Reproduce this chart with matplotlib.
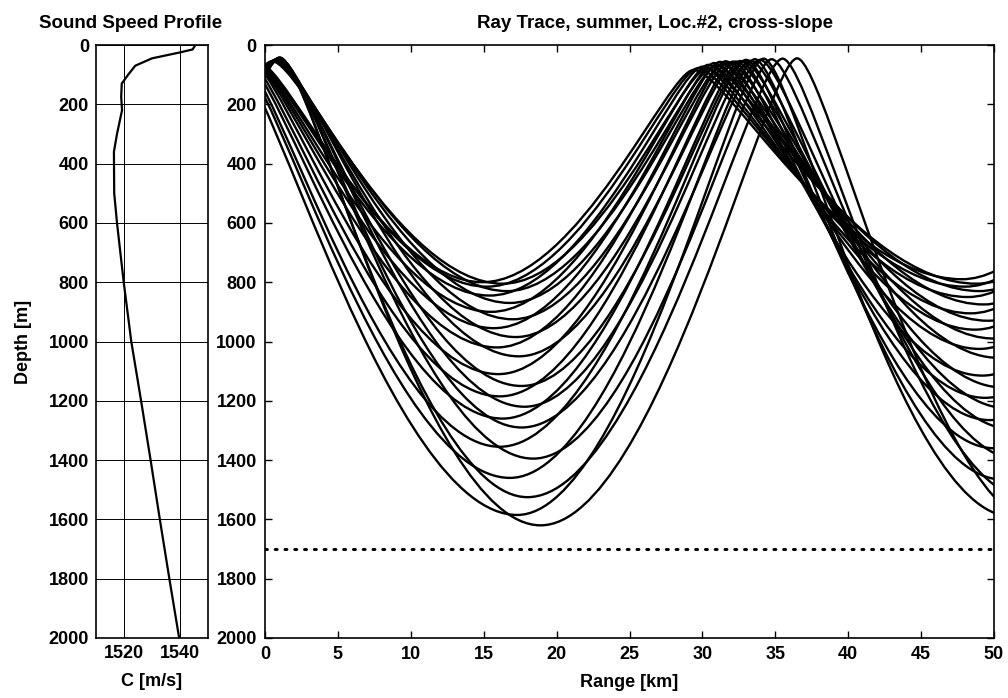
import matplotlib.pyplot as plt
from matplotlib.path import Path
from matplotlib.patches import PathPatch

plt.rcParams['font.family'] = ['Liberation Sans', 'DejaVu Sans']
plt.rcParams['font.weight'] = 'bold'
plt.rcParams['axes.labelweight'] = 'bold'
plt.rcParams['axes.titleweight'] = 'bold'
plt.rcParams['font.size'] = 13

# sound speed profile
ssp_depth = [0, 15, 25, 45, 70, 100, 130, 175, 220, 300, 360, 500, 600, 800,
             1000, 1200, 1400, 1600, 1800, 2000]
ssp_c = [1545.5, 1544.5, 1540, 1530, 1524, 1521.5, 1519.2, 1519, 1519.3, 1517.5,
         1516.4, 1516.5, 1517.5, 1519.9, 1522.6, 1526.1, 1529.5, 1532.8, 1536.2, 1539.7]

# ray turning points (range km, depth m); rays come in pairs,
# first launched downward, then upward
trough0_r = [-16, -14.8, -16, -15.0, -16, -15.2, -16, -15.4, -16, -15.6, -16, -15.8,
             -17, -16.0, -17, -16.2, -17, -16.0, -17, -16.6, -17, -16.0, -18, -16.9]
peak0_r = [-0.4, 0.5, -0.5, 0.6, -0.6, 0.7, -0.7, 0.8, -0.8, 0.8, -0.9, 0.9,
           -1.0, 0.9, -1.2, 1.0, -1.4, 1.0, -1.6, 1.0, -1.8, 1.0, -2.1, 1.0]
peak0_z = [60, 55, 58, 53, 57, 52, 56, 50, 55, 48, 54, 47,
           53, 46, 52, 45, 51, 45, 50, 44, 50, 43, 50, 42]
trough1_r = [14.9, 16.3, 15.2, 16.6, 15.4, 16.8, 15.5, 17.0, 15.7, 17.2, 15.9, 17.4,
             16.0, 17.6, 16.1, 17.8, 16.3, 17.6, 16.1, 18.4, 16.8, 18.0, 17.3, 18.9]
trough1_z = [800, 805, 815, 830, 845, 870, 900, 925, 955, 985, 1020, 1050,
             1110, 1150, 1185, 1220, 1260, 1290, 1355, 1395, 1460, 1525, 1585, 1620]
peak1_r = [29.4, 30.3, 29.7, 30.7, 30.0, 31.0, 30.4, 31.4, 30.8, 31.8, 31.2, 32.3,
           31.6, 32.8, 32.1, 33.3, 32.6, 33.95, 33.0, 34.75, 33.6, 35.5, 34.2, 36.5]
peak1_z = [84, 80, 78, 75, 73, 70, 67, 64, 61, 59, 57, 56,
           55, 54, 56, 53, 54, 50, 50, 48, 48, 46, 46, 45]
trough2_r = [47.8, 48.8, 48.0, 49.0, 48.2, 49.3, 48.4, 49.6, 48.7, 50.0, 49.0, 50.3,
             49.2, 50.6, 49.4, 50.9, 49.7, 51.2, 50.0, 51.8, 50.5, 52.4, 51.2, 53.5]
trough2_z = [790, 805, 815, 830, 850, 875, 905, 930, 960, 990, 1025, 1055,
             1115, 1155, 1190, 1225, 1265, 1295, 1360, 1400, 1465, 1530, 1590, 1625]
peak2_r = [62.0, 63.0, 62.5, 63.5, 63.0, 64.0, 63.5, 64.5, 64.0, 65.0, 64.5, 65.5,
           65.0, 66.0, 65.5, 66.5, 66.0, 67.0, 66.5, 67.5, 67.0, 68.0, 67.5, 68.5]

bottom_depth = 1700


def ray_path(pts, a=0.12, b=0.45):
    verts = [pts[0]]
    codes = [Path.MOVETO]
    for (r0, z0), (r1, z1) in zip(pts[:-1], pts[1:]):
        d = r1 - r0
        if z1 > z0:
            c1, c2 = (r0 + a * d, z0), (r1 - b * d, z1)
        else:
            c1, c2 = (r0 + b * d, z0), (r1 - a * d, z1)
        verts += [c1, c2, (r1, z1)]
        codes += [Path.CURVE4] * 3
    return Path(verts, codes)


fig = plt.figure(figsize=(10.08, 6.98), dpi=100)
ax1 = fig.add_axes([96 / 1008, 60 / 698, 112 / 1008, 593 / 698])
ax2 = fig.add_axes([265 / 1008, 60 / 698, 729 / 1008, 593 / 698])

# sound speed profile
ax1.plot(ssp_c, ssp_depth, color='black', lw=1.6)
ax1.set_xlim(1510, 1550)
ax1.set_ylim(2000, 0)
ax1.set_xticks([1520, 1540])
ax1.set_yticks(range(0, 2001, 200))
ax1.grid(True, color='black', lw=0.7)
ax1.tick_params(direction='in', length=0, pad=5)
ax1.set_title('Sound Speed Profile', fontsize=13.5, pad=12, x=0.31)
ax1.set_xlabel('C [m/s]', fontsize=13, labelpad=8)
ax1.set_ylabel('Depth [m]', fontsize=13, labelpad=12)

# ray trace
for i in range(len(trough1_r)):
    pts = [(trough0_r[i], trough1_z[i]), (peak0_r[i], peak0_z[i]),
           (trough1_r[i], trough1_z[i]), (peak1_r[i], peak1_z[i]),
           (trough2_r[i], trough2_z[i]), (peak2_r[i], peak1_z[i])]
    ax2.add_patch(PathPatch(ray_path(pts), fill=False, edgecolor='black', lw=1.7))

ax2.plot([0, 50], [bottom_depth, bottom_depth], color='black', lw=2.2,
         linestyle=(0, (0.6, 2.6)), dash_capstyle='round')
ax2.set_xlim(0, 50)
ax2.set_ylim(2000, 0)
ax2.set_xticks(range(0, 51, 5))
ax2.set_yticks(range(0, 2001, 200))
ax2.tick_params(direction='in', top=True, right=True, length=5, width=1, pad=6)
ax2.set_title('Ray Trace, summer, Loc.#2, cross-slope', fontsize=13.5, pad=12, x=0.535)
ax2.set_xlabel('Range [km]', fontsize=13, labelpad=8)

for ax in (ax1, ax2):
    for s in ax.spines.values():
        s.set_linewidth(1.2)

fig.savefig('out.png', dpi=100)
